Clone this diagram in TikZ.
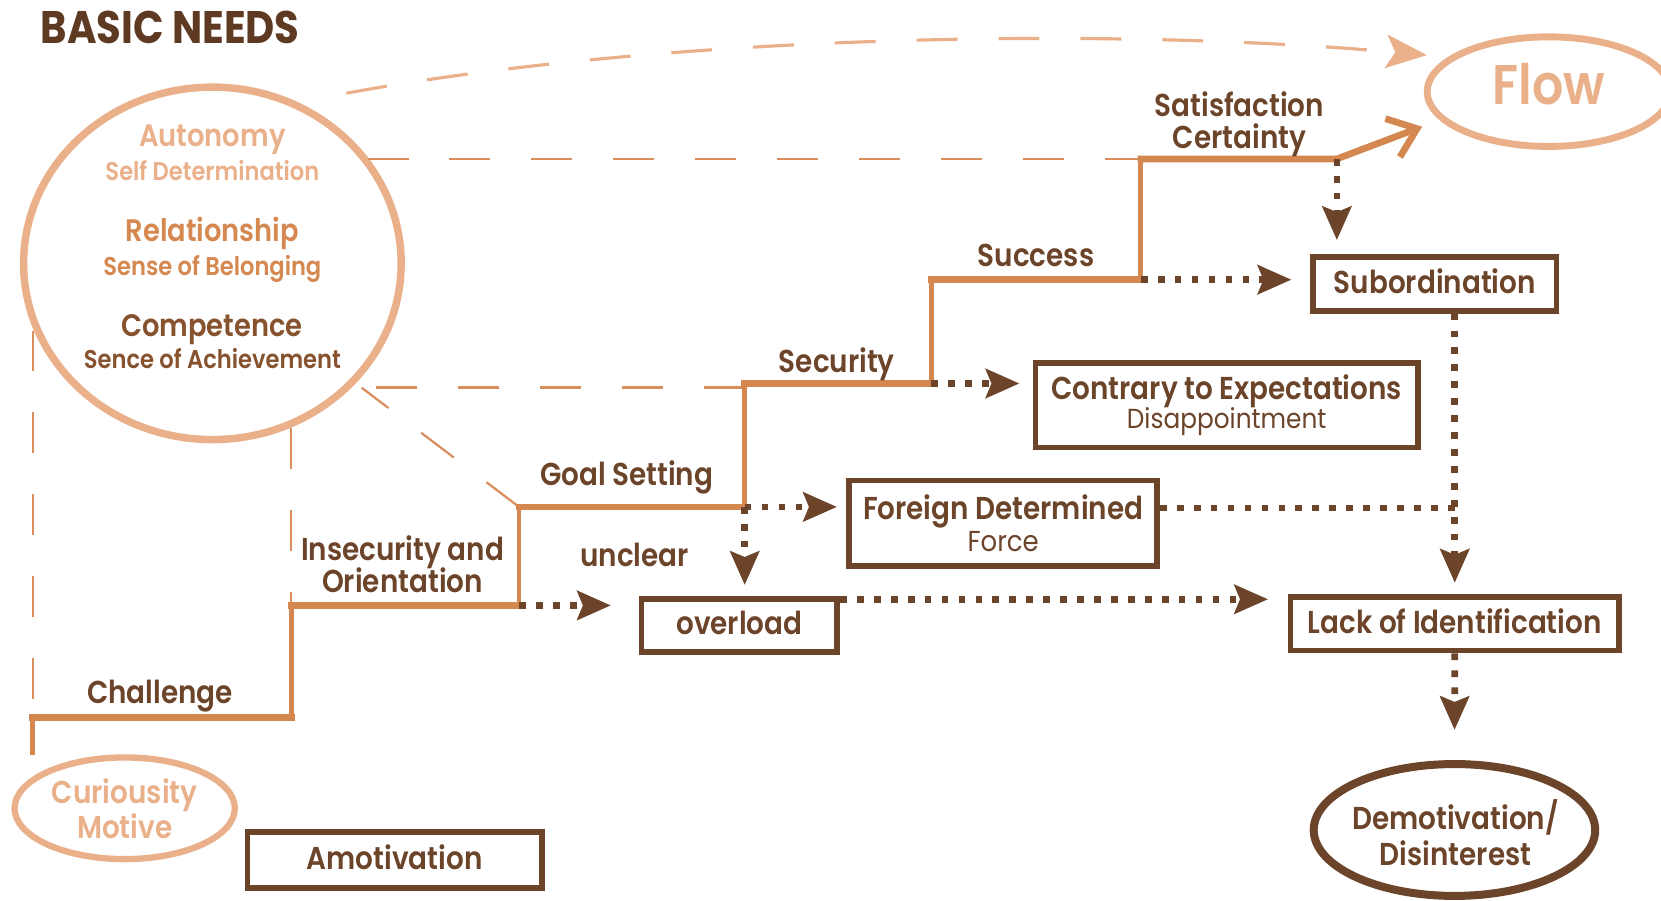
\documentclass[tikz,border=0pt]{standalone}
\usepackage{fontspec}
\setmainfont{Poppins}[FakeStretch=0.9]
\newfontfamily\pmed{Poppins Medium}[FakeStretch=0.9]
\newfontfamily\psemi{Poppins SemiBold}[FakeStretch=0.88]
\newfontfamily\pbold{Poppins Bold}[FakeStretch=0.88]
\usetikzlibrary{arrows.meta,shapes.geometric,calc}
\definecolor{dbrown}{HTML}{6B4429}
\definecolor{tbrown}{HTML}{5E3A22}
\definecolor{stairc}{HTML}{D4874F}
\definecolor{peach}{HTML}{EAB08A}
\definecolor{dashc}{HTML}{D98E5E}
\definecolor{relc}{HTML}{D5884F}
\definecolor{compc}{HTML}{87532F}
\tikzset{
  lbl/.style={font={\psemi\fontsize{17}{17}\selectfont\lineskiplimit=-30pt}, text=dbrown, inner sep=0pt, align=center},
  boxnode/.style={draw=dbrown, line width=3pt, inner sep=0pt, text=dbrown, align=center, font={\psemi\fontsize{17}{17}\selectfont\lineskiplimit=-30pt}},
  onebox/.style={boxnode, text depth=2.8pt},
  dotarrow/.style={draw=dbrown, line width=3.6pt, dash pattern=on 3.6pt off 5.5pt, -{Stealth[length=18pt,width=15.5pt,inset=3pt]}},
  dotline/.style={draw=dbrown, line width=3.6pt, dash pattern=on 3.6pt off 5.5pt},
  longdash/.style={draw=dashc, line width=1.5pt, dash pattern=on 22pt off 22pt},
  stairv/.style={draw=stairc, line width=2.6pt},
  stairh/.style={draw=stairc, line width=3.6pt, line cap=rect},
  circtxt/.style={anchor=base, inner sep=0pt},
  headfont/.style={font=\psemi\fontsize{16.7}{17}\selectfont},
  subfont/.style={font=\psemi\fontsize{13.8}{16}\selectfont},
}
\begin{document}
\begin{tikzpicture}[x=0.02cm,y=-0.02cm]
\path[fill=white,use as bounding box] (0,0) rectangle (1568,850);
% title
\node[anchor=base west, inner sep=0pt, text=tbrown, font=\pbold\fontsize{24.5}{24.5}\selectfont] (title) at (38,41) {BASIC NEEDS};
% basic needs circle
\node[ellipse, draw=peach, line width=4pt, minimum width=7.13cm, minimum height=6.656cm, inner sep=0pt] (circ) at (200.5,248.6) {};
\node[circtxt, headfont, text=peach] (aut) at (200.5,138.5) {Autonomy};
\node[circtxt, subfont, text=peach] (autsub) at (200.5,170) {Self Determination};
\node[circtxt, headfont, text=relc] (rel) at (200.5,228) {Relationship};
\node[circtxt, subfont, text=relc] (relsub) at (200.5,259.6) {Sense of Belonging};
\node[circtxt, headfont, text=compc] (comp) at (200,318) {Competence};
\node[circtxt, subfont, text=compc] (compsub) at (200.5,348) {Sence of Achievement};
% flow
\node[ellipse, draw=peach, line width=3.7pt, minimum width=4.59cm, minimum height=2.07cm, inner sep=0pt, text=peach, font=\psemi\fontsize{30}{30}\selectfont, text depth=8.5pt] (flow) at (1462,86.5) {Flow};
% boxes
\node[onebox, minimum width=4.596cm, minimum height=1.016cm] (subo) at (1354.5,268) {Subordination};
\node[boxnode, minimum width=7.216cm, minimum height=1.596cm, font={\psemi\fontsize{17}{15.9}\selectfont\lineskiplimit=-30pt}] (contr) at (1158,382.5) {Contrary to Expectations\\{\normalfont\fontsize{14.8}{15.9}\selectfont Disappointment}};
\node[boxnode, minimum width=5.816cm, minimum height=1.616cm, font={\psemi\fontsize{17}{16.8}\selectfont\lineskiplimit=-30pt}] (frgn) at (947,494) {Foreign Determined\\{\normalfont\fontsize{15.5}{16.8}\selectfont Force}};
\node[onebox, minimum width=3.696cm, minimum height=1.002cm] (ovl) at (698,590.4) {overload};
\node[onebox, minimum width=6.204cm, minimum height=1.016cm] (lack) at (1373.3,588.8) {Lack of Identification};
\node[onebox, minimum width=5.556cm, minimum height=1.06cm] (amot) at (372.5,812) {Amotivation};
% ellipses at bottom
\node[ellipse, draw=peach, line width=3.4pt, minimum width=4.16cm, minimum height=1.92cm, inner sep=0pt, text=peach, align=center, font={\psemi\fontsize{17}{18.8}\selectfont\lineskiplimit=-30pt}] (curi) at (117.7,763) {Curiousity\\Motive};
\node[ellipse, draw=dbrown, line width=4.3pt, minimum width=5.316cm, minimum height=2.49cm, inner sep=0pt] (demot) at (1373,783.5) {};
\node[lbl, font={\psemi\fontsize{17}{19.3}\selectfont\lineskiplimit=-30pt}] (demottxt) at (1374,786) {Demotivation/\\Disinterest};
% stair coordinates
\coordinate (s0) at (31,713);
\coordinate (s1) at (31,677);
\coordinate (s2) at (275,677);
\coordinate (s3) at (275,571.5);
\coordinate (s4) at (490,571.5);
\coordinate (s5) at (490,478.5);
\coordinate (s6) at (703,478.5);
\coordinate (s7) at (703,362);
\coordinate (s8) at (879,362);
\coordinate (s9) at (879,264);
\coordinate (s10) at (1077,264);
\coordinate (s11) at (1077,150);
\coordinate (s12) at (1262,150);
\coordinate (ftip) at (1342.5,119.6);
% dashed connectors
\coordinate (cE) at (347,150);
\coordinate (cL) at (31,312);
\coordinate (cB) at (275,404);
\coordinate (cT) at (341.4,366);
\coordinate (topS) at (327,88);
\coordinate (topE) at (1347,52);
\draw[longdash, draw=peach, line width=1.7pt, -{Stealth[length=22pt,width=18pt,inset=5pt]}] (topS) .. controls (627,32.8) and (1047,25) .. (topE);
\draw[longdash] (cE) -- (s11);
\draw[longdash] (s7 |- cT) -- (cT);
\draw[longdash, line width=1.2pt] (s5) -- (cT);
\draw[longdash, line width=1.1pt] (cL) -- (s1);
\draw[longdash, line width=1.1pt] (cB) -- (s3);
% stair
\draw[stairv] (s0) -- (s1) (s2) -- (s3) (s4) -- (s5) (s6) -- (s7) (s8) -- (s9) (s10) -- (s11);
\draw[stairh] (s1) -- (s2) (s3) -- (s4) (s5) -- (s6) (s7) -- (s8) (s9) -- (s10);
\draw[stairh, -{Straight Barb[length=14pt,width=22pt]}] (s11) -- (s12) -- (ftip);
% stair labels
\node[lbl, anchor=base] (chal) at (151,664) {Challenge};
\node[lbl] (inse) at (380,532.5) {Insecurity and\\Orientation};
\node[lbl, anchor=base] (goal) at (591.5,458) {Goal Setting};
\node[lbl, anchor=base] (uncl) at (599,535) {unclear};
\node[lbl, anchor=base] (secu) at (790,352) {Security};
\node[lbl, anchor=base] (succ) at (978,252) {Success};
\node[lbl] (sati) at (1170,117) {Satisfaction\\Certainty};
% dotted arrows
\draw[dotarrow, shorten >=15pt] (s4) -- (s4 -| ovl.west);
\draw[dotarrow, shorten >=5.1pt] (s6) -- (s6 -| frgn.west);
\draw[dotarrow, shorten >=6pt] (s6) -- (s6 |- ovl.north);
\draw[dotarrow, shorten >=7.2pt] (s8) -- (s8 -| contr.west);
\draw[dotarrow, shorten >=10.2pt] (s10) -- (s10 -| subo.west);
\draw[dotarrow, shorten >=7.6pt] (s12) -- (s12 |- subo.north);
\coordinate (oNE) at ([yshift=-1.7pt]ovl.north east);
\draw[dotarrow, shorten >=10.6pt] (oNE) -- (oNE -| lack.west);
\coordinate (fE) at ([yshift=8.2pt]frgn.east);
\draw[dotline] (fE) -- (fE -| lack.north);
\draw[dotarrow, shorten >=6.1pt] (lack.north |- subo.south) -- (lack.north);
\draw[dotarrow, shorten >=16.2pt] (lack.south) -- (demot.north);
\end{tikzpicture}
\end{document}
